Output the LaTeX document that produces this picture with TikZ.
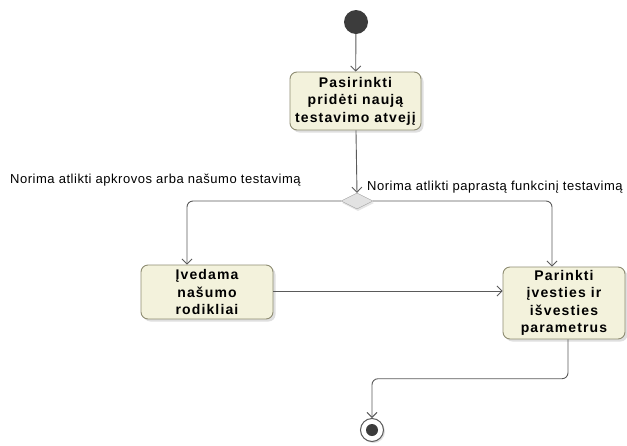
\documentclass[tikz,border=0pt]{standalone}
\usepackage{fontspec}
\setmainfont{Liberation Sans}
\usetikzlibrary{arrows.meta,shapes.geometric,shadows,calc}
\definecolor{actfill}{HTML}{F3F2DC}
\definecolor{actedge}{HTML}{8E8C72}
\definecolor{flow}{HTML}{5A5A5A}
\definecolor{dotfill}{HTML}{3C3C3C}
\definecolor{decfill}{HTML}{E2E2E2}
\tikzset{
  action/.style={draw=actedge, line width=0.9pt, fill=actfill, rounded corners=7pt,
    align=center, inner sep=2pt,
    font=\bfseries\fontsize{14}{17.5}\selectfont\addfontfeature{LetterSpace=8},
    drop shadow={shadow xshift=2.5pt, shadow yshift=-2.5pt, fill=black!25}},
  flowline/.style={draw=flow, line width=0.9pt, rounded corners=6pt},
  flowarrow/.style={flowline, -{Straight Barb[length=5pt,width=10pt]}},
  guard/.style={font=\fontsize{13}{15}\selectfont\addfontfeature{LetterSpace=4},
    inner sep=0pt, anchor=west},
}
\begin{document}
\begin{tikzpicture}[x=1pt,y=-1pt]
  \useasboundingbox (0,0) rectangle (627,445);
  % initial node
  \node[circle, fill=dotfill, minimum size=24pt, inner sep=0pt] (start) at (356,22) {};
  % actions
  \node[action, minimum width=131pt, minimum height=58pt] (choose) at (355.5,101)
    {Pasirinkti\\pridėti naują\\testavimo atvejį};
  \node[action, minimum width=132pt, minimum height=54pt] (perf) at (207,292)
    {Įvedama\\našumo\\rodikliai};
  \node[action, minimum width=122pt, minimum height=72pt] (params) at (564,303)
    {Parinkti\\įvesties ir\\išvesties\\parametrus};
  % decision
  \node[diamond, draw=black!35, fill=decfill, minimum width=32pt, minimum height=16pt,
        inner sep=0pt, aspect=2,
        drop shadow={shadow xshift=1pt, shadow yshift=-2pt, fill=black!20}] (dec) at (357,201) {};
  % final node
  \node[circle, draw=flow, line width=1pt, fill=white, minimum size=23pt, inner sep=0pt,
        drop shadow={shadow xshift=1.5pt, shadow yshift=-1.5pt, fill=black!25}] (end) at (372,430) {};
  \node[circle, fill=dotfill, minimum size=12pt, inner sep=0pt] (enddot) at (end.center) {};
  % guards
  \node[guard] (g1) at (10,180) {Norima atlikti apkrovos arba našumo testavimą};
  \node[guard] (g2) at (367,187) {Norima atlikti paprastą funkcinį testavimą};
  % flows
  \coordinate (perfin) at ([xshift=-20pt]perf.north);
  \coordinate (parin) at ([xshift=-12pt]params.north);
  \coordinate (parout) at ([xshift=4pt]params.south);
  \draw[flowarrow] (start) -- (choose);
  \draw[flowarrow] (choose) -- (dec.north);
  \draw[flowarrow] (dec.west) -| (perfin);
  \draw[flowarrow] (dec.east) -| (parin);
  \draw[flowarrow] (perf.east |- 0,291) -- (params.west |- 0,291);
  \draw[flowarrow] (parout) |- ($(parout)!0.5!(end.north)$) -| (end.north);
\end{tikzpicture}
\end{document}
